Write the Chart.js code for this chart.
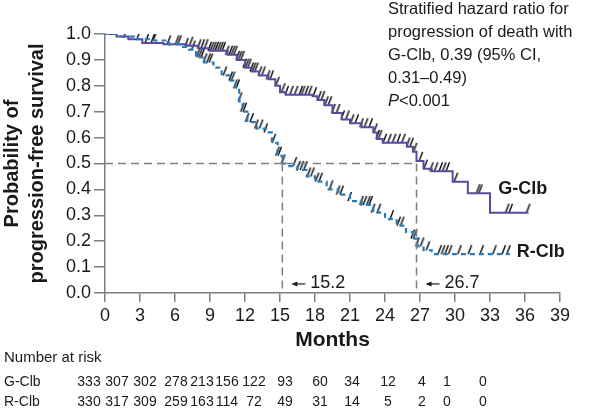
<!DOCTYPE html>
<html>
<head>
<meta charset="utf-8">
<script src="https://cdn.jsdelivr.net/npm/chart.js@4.4.1/dist/chart.umd.min.js"></script>
<style>
  html, body { margin: 0; padding: 0; background: #fff; }
</style>
</head>
<body>
<canvas id="km" width="604" height="409"></canvas>
<script>
// Kaplan-Meier steps (month, survival after that month)
const gTimes = [0, 1, 2, 3.2, 5, 7, 8, 9, 10.5, 11.3, 12, 12.6, 13.2, 14, 14.6, 15, 15.5, 17.8, 18.2, 18.8, 19.5, 20.3, 21, 22, 23, 23.3, 23.8, 25.9, 26.4, 26.7, 27.3, 28, 29.8, 31.1, 33.0, 36.3];
const gSurv  = [1.0, 0.99, 0.98, 0.965, 0.96, 0.955, 0.945, 0.935, 0.92, 0.9, 0.87, 0.855, 0.84, 0.825, 0.8, 0.775, 0.765, 0.76, 0.745, 0.725, 0.695, 0.67, 0.655, 0.64, 0.62, 0.595, 0.58, 0.565, 0.545, 0.51, 0.48, 0.47, 0.43, 0.385, 0.31, 0.31];

const rTimes = [0, 1, 2.5, 4, 5.5, 6.5, 7.2, 7.8, 8.5, 9.3, 10, 10.8, 11.2, 11.5, 11.8, 12.2, 13, 13.8, 14.3, 14.8, 15.2, 15.8, 16.5, 17.3, 18, 19, 20, 21, 22, 23, 24, 25, 25.8, 26.4, 26.8, 27.3, 28, 34.7];
const rSurv  = [1.0, 0.99, 0.98, 0.975, 0.96, 0.95, 0.94, 0.91, 0.89, 0.87, 0.84, 0.82, 0.79, 0.74, 0.7, 0.66, 0.635, 0.62, 0.58, 0.53, 0.5, 0.49, 0.475, 0.45, 0.43, 0.4, 0.38, 0.355, 0.34, 0.31, 0.285, 0.26, 0.235, 0.21, 0.18, 0.165, 0.15, 0.15];

// censored observations
const gCensor = [0.3, 1.8, 2.9, 3.6, 4.1, 6.2, 7.4, 8.1, 8.4, 8.7, 9.0, 9.2, 9.4, 9.6, 9.8, 10.0, 10.2, 10.5, 10.8, 11.0, 11.2, 11.4, 11.6, 11.8, 12.0, 12.2, 12.4, 12.6, 12.8, 13.0, 13.3, 13.6, 14.0, 14.3, 14.8, 15.3, 15.6, 16.0, 16.4, 16.8, 17.0, 17.3, 17.6, 18.0, 18.4, 18.7, 19.0, 19.3, 19.6, 20.0, 20.4, 20.8, 21.2, 21.6, 22.0, 22.4, 22.8, 23.2, 23.4, 23.6, 24.0, 24.4, 24.8, 25.2, 25.6, 26.0, 26.3, 26.6, 27.1, 27.5, 28.0, 28.4, 28.8, 29.1, 29.4, 30.1, 32.0, 32.2, 34.5, 34.8, 36.3];
const rCensor = [0.3, 4.3, 5.5, 6.4, 7.0, 7.6, 8.0, 8.2, 8.4, 8.6, 8.9, 9.1, 10.3, 10.8, 11.0, 11.2, 11.4, 11.6, 11.8, 12.0, 12.2, 12.6, 13.0, 13.4, 13.8, 14.5, 14.8, 15.0, 15.3, 16.3, 16.6, 16.9, 17.2, 17.5, 17.8, 18.2, 18.5, 19.4, 20.0, 20.3, 21.0, 22.0, 22.3, 22.6, 22.8, 23.0, 23.5, 24.6, 25.2, 25.5, 26.4, 26.6, 26.8, 27.2, 27.7, 28.7, 29.0, 29.3, 29.6, 30.4, 31.3, 32.3, 33.4, 34.2, 34.6];

// medians
const gMedian = 26.7;
const rMedian = 15.2;

// number at risk
const riskLabels = ['G-Clb', 'R-Clb'];
const gRisk = [333, 307, 302, 278, 213, 156, 122, 93, 60, 34, 12, 4, 1, 0];
const rRisk = [330, 317, 309, 259, 163, 114, 72, 49, 31, 14, 5, 2, 0, 0];

const noteLines = ['Stratified hazard ratio for', 'progression of death with', 'G-Clb, 0.39 (95% CI,', '0.31\u20130.49)'];

const purple = '#5a4a9e';
const blue = '#2b7bbb';
const grey = '#7f7f7f';
const FONT = '"Liberation Sans", Arial, sans-serif';

function survAt(times, surv, t) {
  let s = surv[0];
  for (let i = 0; i < times.length; i++) {
    if (times[i] <= t) s = surv[i];
  }
  return s;
}

function toPoints(times, surv) {
  return times.map((t, i) => ({ x: t, y: surv[i] }));
}

// censor tick glyph, drawn above the point
const tick = document.createElement('canvas');
tick.width = 10;
tick.height = 20;
(function () {
  const c = tick.getContext('2d');
  c.strokeStyle = '#141414';
  c.lineWidth = 1.5;
  c.beginPath();
  c.moveTo(3, 10);
  c.lineTo(6.5, 1);
  c.stroke();
})();

// risk table column positions (px)
const riskX = [89, 117, 145, 176, 202, 227, 254, 285, 320, 352, 388, 422, 447, 483];

const extras = {
  id: 'extras',
  afterDraw(chart) {
    const ctx = chart.ctx;
    const xs = chart.scales.x, ys = chart.scales.y;
    ctx.save();
    ctx.fillStyle = '#1a1a1a';

    // curve labels
    ctx.font = 'bold 18px ' + FONT;
    ctx.textBaseline = 'middle';
    ctx.textAlign = 'left';
    ctx.fillText('G-Clb', xs.getPixelForValue(33.7), ys.getPixelForValue(0.4));
    ctx.fillText('R-Clb', xs.getPixelForValue(35.3), ys.getPixelForValue(0.158));

    // median annotations
    ctx.font = '18px ' + FONT;
    const ay = ys.getPixelForValue(0.035);
    [rMedian, gMedian].forEach(m => {
      const x0 = xs.getPixelForValue(m) + 9;
      ctx.strokeStyle = '#1a1a1a';
      ctx.lineWidth = 1.2;
      ctx.beginPath();
      ctx.moveTo(x0 + 14, ay);
      ctx.lineTo(x0 + 3, ay);
      ctx.stroke();
      ctx.beginPath();
      ctx.moveTo(x0, ay);
      ctx.lineTo(x0 + 6, ay - 2.5);
      ctx.lineTo(x0 + 6, ay + 2.5);
      ctx.closePath();
      ctx.fill();
      ctx.fillText(m.toFixed(1), x0 + 19, ay - 1);
    });

    // hazard ratio note
    ctx.font = '16.5px ' + FONT;
    noteLines.forEach((s, i) => ctx.fillText(s, 388, 9 + i * 23));
    ctx.font = 'italic 16.5px ' + FONT;
    ctx.fillText('P', 388, 101);
    const pw = ctx.measureText('P').width;
    ctx.font = '16.5px ' + FONT;
    ctx.fillText('<0.001', 388 + pw, 101);

    // number at risk
    ctx.font = '15px ' + FONT;
    ctx.fillText('Number at risk', 4, 358);
    ctx.font = '14px ' + FONT;
    [gRisk, rRisk].forEach((row, r) => {
      const y = 382 + r * 20;
      ctx.textAlign = 'left';
      ctx.fillText(riskLabels[r], 4, y);
      ctx.textAlign = 'center';
      row.forEach((v, i) => ctx.fillText(String(v), riskX[i], y));
    });
    ctx.restore();
  }
};

new Chart(document.getElementById('km'), {
  type: 'line',
  data: {
    datasets: [
      {
        data: [{ x: 0, y: 0.5 }, { x: gMedian, y: 0.5 }],
        borderColor: grey, borderWidth: 1.5, borderDash: [8, 5], pointRadius: 0
      },
      {
        data: [{ x: rMedian, y: 0.5 }, { x: rMedian, y: 0 }],
        borderColor: grey, borderWidth: 1.5, borderDash: [8, 5], pointRadius: 0
      },
      {
        data: [{ x: gMedian, y: 0.5 }, { x: gMedian, y: 0 }],
        borderColor: grey, borderWidth: 1.5, borderDash: [8, 5], pointRadius: 0
      },
      {
        label: 'R-Clb',
        data: toPoints(rTimes, rSurv),
        stepped: 'before',
        borderColor: blue, borderWidth: 2.2, borderDash: [5, 4], pointRadius: 0
      },
      {
        label: 'G-Clb',
        data: toPoints(gTimes, gSurv),
        stepped: 'before',
        borderColor: purple, borderWidth: 2, pointRadius: 0
      },
      {
        data: rCensor.map(t => ({ x: t, y: survAt(rTimes, rSurv, t) })),
        showLine: false, pointStyle: tick, pointRadius: 5
      },
      {
        data: gCensor.map(t => ({ x: t, y: survAt(gTimes, gSurv, t) })),
        showLine: false, pointStyle: tick, pointRadius: 5
      }
    ]
  },
  options: {
    responsive: false,
    animation: false,
    devicePixelRatio: 1,
    layout: { padding: { left: 0, top: 34, right: 44, bottom: 56 } },
    plugins: { legend: { display: false }, tooltip: { enabled: false } },
    scales: {
      x: {
        type: 'linear', min: 0, max: 39,
        afterFit(s) { s.height = 60; },
        border: { color: grey, width: 1.5 },
        grid: { drawOnChartArea: false, color: grey, lineWidth: 1.5, tickLength: 9 },
        ticks: { stepSize: 3, color: '#1a1a1a', padding: 3, maxRotation: 0,
                 font: { family: FONT, size: 18 } },
        title: { display: true, text: 'Months', color: '#1a1a1a', padding: 0,
                 font: { family: FONT, size: 21, weight: 'bold' } }
      },
      y: {
        min: 0, max: 1,
        afterFit(s) { s.width = 105; },
        border: { color: grey, width: 1.5 },
        grid: { drawOnChartArea: false, color: grey, lineWidth: 1.5, tickLength: 11 },
        ticks: { stepSize: 0.1, color: '#1a1a1a', padding: 3,
                 callback: v => v.toFixed(1),
                 font: { family: FONT, size: 18 } },
        title: { display: true, text: ['Probability of', 'progression-free survival'], color: '#1a1a1a',
                 padding: 0,
                 font: { family: FONT, size: 20, weight: 'bold', lineHeight: 1.25 } }
      }
    }
  },
  plugins: [extras]
});
</script>
</body>
</html>
